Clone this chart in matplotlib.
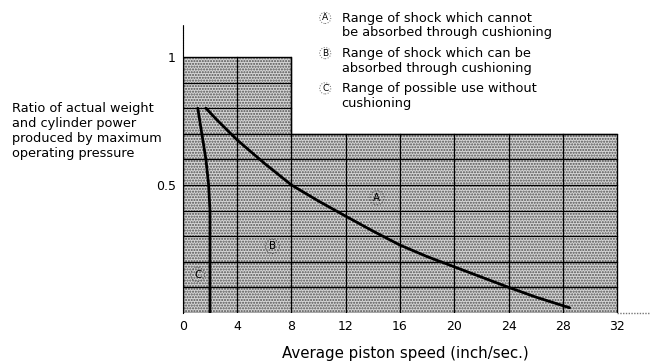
import numpy as np
import matplotlib.pyplot as plt
from matplotlib.patches import Polygon

plt.rcParams['font.family'] = ['DejaVu Sans']

# outline of the shaded working area (speed, ratio)
region_x = [0, 0, 8, 8, 32, 32]
region_y = [0, 1.0, 1.0, 0.7, 0.7, 0]

# boundary between A and B
curve_a_x = [1.7, 2.5, 4.0, 6.0, 8.0, 10.0, 12.0, 14.0, 16.0, 18.0, 20.0, 22.0, 24.0, 26.0, 28.5]
curve_a_y = [0.80, 0.755, 0.676, 0.585, 0.50, 0.437, 0.378, 0.32, 0.265, 0.22, 0.18, 0.14, 0.10, 0.062, 0.02]

# boundary of C (use without cushioning)
curve_c_x = [1.1, 1.25, 1.4, 1.55, 1.7, 1.8, 1.9, 1.95, 2.0, 2.0, 2.0]
curve_c_y = [0.80, 0.75, 0.70, 0.65, 0.60, 0.55, 0.50, 0.45, 0.40, 0.20, 0.0]

xticks = [0, 4, 8, 12, 16, 20, 24, 28, 32]
yticks = [0.5, 1.0]
ytick_labels = ['0.5', '1']

legend_items = [
    ('A', 'Range of shock which cannot\nbe absorbed through cushioning'),
    ('B', 'Range of shock which can be\nabsorbed through cushioning'),
    ('C', 'Range of possible use without\ncushioning'),
]

fig = plt.figure(figsize=(6.53, 3.63), dpi=100)
ax = fig.add_axes([0.280, 0.138, 0.715, 0.793])

# stippled fill
poly = Polygon(np.column_stack([region_x, region_y]), closed=True,
               facecolor='#d6d6d6', edgecolor='#505050', hatch='......',
               linewidth=0, zorder=1)
ax.add_patch(poly)
ax.plot(region_x + [region_x[0]], region_y + [region_y[0]], color='black', lw=1.0, zorder=2)

# grid lines inside the shaded area
for xv in range(4, 32, 4):
    top = 1.0 if xv <= 8 else 0.7
    ax.plot([xv, xv], [0, top], color='black', lw=0.9, zorder=2)
for yv in np.arange(0.1, 1.0, 0.1):
    right = 32 if yv <= 0.7 + 1e-9 else 8
    ax.plot([0, right], [yv, yv], color='black', lw=0.9, zorder=2)

# base line running on past the last grid column
ax.plot([32, 34.4], [0, 0], color='#777777', lw=1.0, ls=(0, (1, 1)), zorder=2, clip_on=False)

ax.plot(curve_a_x, curve_a_y, color='black', lw=2.0, zorder=3, solid_capstyle='round')
ax.plot(curve_c_x, curve_c_y, color='black', lw=2.0, zorder=3, solid_capstyle='round')

circ = dict(boxstyle='circle,pad=0.2', fc='none', ec='#555555', ls=':', lw=0.8)
ax.text(14.3, 0.45, 'A', fontsize=7.5, ha='center', va='center', bbox=circ, zorder=4)
ax.text(6.6, 0.26, 'B', fontsize=7.5, ha='center', va='center', bbox=circ, zorder=4)
ax.text(1.1, 0.15, 'C', fontsize=7.5, ha='center', va='center', bbox=circ, zorder=4)

ax.set_xlim(0, 34.4)
ax.set_ylim(0, 1.125)
ax.set_xticks(xticks)
ax.set_yticks(yticks)
ax.set_yticklabels(ytick_labels)
ax.tick_params(length=0, labelsize=9, pad=5)
for side in ['top', 'right', 'bottom']:
    ax.spines[side].set_visible(False)
ax.spines['left'].set_linestyle((0, (1, 0.5)))
ax.set_xlabel('Average piston speed (inch/sec.)', fontsize=10.8, labelpad=10)
ax.xaxis.set_label_coords(0.477, -0.115)

fig.text(0.018, 0.72, 'Ratio of actual weight\nand cylinder power\nproduced by maximum\noperating pressure',
         fontsize=9.3, ha='left', va='top', linespacing=1.2)

for i, (letter, label) in enumerate(legend_items):
    y = 0.963 - i * 0.097
    fig.text(0.498, y, letter, fontsize=6.5, ha='center', va='top',
             bbox=dict(boxstyle='circle,pad=0.12', fc='none', ec='#666666', ls=':', lw=0.7))
    fig.text(0.523, y + 0.004, label, fontsize=9.3, ha='left', va='top', linespacing=1.15)

plt.savefig('out.png', dpi=100)
